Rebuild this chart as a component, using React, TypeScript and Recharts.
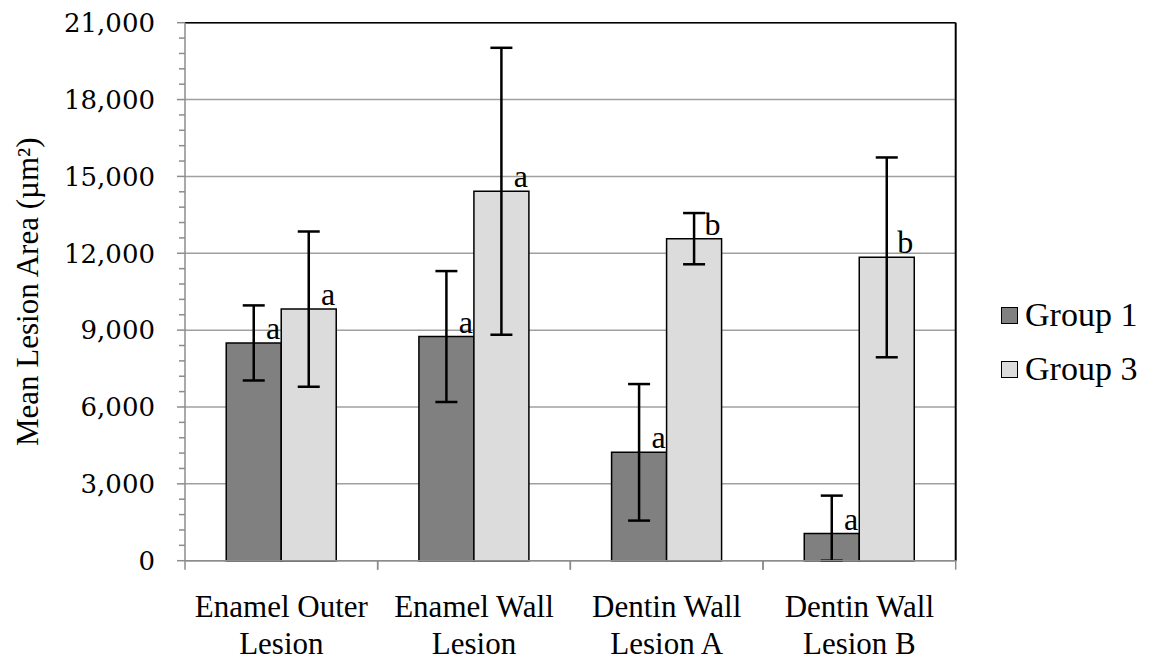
import React from 'react';
import {
  BarChart,
  Bar,
  XAxis,
  YAxis,
  CartesianGrid,
  ErrorBar,
  LabelList,
  Legend,
  ReferenceLine,
} from 'recharts';

// lesion sites along the x axis
const categories = ['Enamel Outer\nLesion', 'Enamel Wall\nLesion', 'Dentin Wall\nLesion A', 'Dentin Wall\nLesion B'];

// mean lesion area (µm²)
const group1 = [8500, 8750, 4230, 1060];
const group3 = [9820, 14420, 12570, 11840];

// error bars (below / above the mean)
const group1ErrLow = [1465, 2555, 2665, 1060];
const group1ErrHigh = [1465, 2555, 2665, 1480];
const group3ErrLow = [3030, 5600, 1000, 3900];
const group3ErrHigh = [3030, 5600, 1000, 3900];

// significance letters
const group1Letters = ['a', 'a', 'a', 'a'];
const group3Letters = ['a', 'a', 'b', 'b'];

const yTicks = [0, 3000, 6000, 9000, 12000, 15000, 18000, 21000];

const minorTicks: number[] = [];
for (let v = 0; v <= 21000; v += 600) minorTicks.push(v);

const data = categories.map((name, i) => ({
  name,
  g1: group1[i],
  g3: group3[i],
  g1Err: [group1ErrLow[i], group1ErrHigh[i]],
  g3Err: [group3ErrLow[i], group3ErrHigh[i]],
  g1Letter: group1Letters[i],
  g3Letter: group3Letters[i],
}));

const SERIF = '"Liberation Serif", "Times New Roman", serif';
const AXIS_GRAY = '#8c8c8c';

const YTick = (props: any) => {
  const { x, y, payload } = props;
  const major = payload.value % 3000 === 0;
  return (
    <g>
      <line x1={x - (major ? 8 : 6)} x2={x} y1={y} y2={y} stroke={AXIS_GRAY} strokeWidth={1.5} />
      {major && (
        <text x={x - 30} y={y} dy="0.36em" textAnchor="end" fontFamily='"DejaVu Serif", serif' fontSize={26} fill="#000">
          {payload.value.toLocaleString('en-US')}
        </text>
      )}
    </g>
  );
};

// category label plus the tick marks on the category boundaries
const XTick = (props: any) => {
  const { x, y, payload } = props;
  const half = payload.offset || 0;
  const lines = String(payload.value).split('\n');
  return (
    <g>
      <line x1={x - half} x2={x - half} y1={y} y2={y + 9} stroke={AXIS_GRAY} strokeWidth={1.5} />
      <line x1={x + half} x2={x + half} y1={y} y2={y + 9} stroke={AXIS_GRAY} strokeWidth={1.5} />
      <text textAnchor="middle" fontFamily={SERIF} fontSize={31} fill="#000">
        {lines.map((l, i) => (
          <tspan key={i} x={x} y={y + 56 + i * 37}>{l}</tspan>
        ))}
      </text>
    </g>
  );
};

const renderLetter = (props: any) => {
  const { x, y, width, value } = props;
  return (
    <text x={x + width - 1} y={y - 4} textAnchor="end" fontFamily={SERIF} fontSize={32} fill="#000">
      {value}
    </text>
  );
};

const YTitle = () => (
  <text
    x={38}
    y={291.7}
    transform="rotate(-90, 38, 291.7)"
    textAnchor="middle"
    fontFamily={SERIF}
    fontSize={31}
    fill="#000"
  >
    Mean Lesion Area (µm²)
  </text>
);

const legendItems = [
  { label: 'Group 1', color: '#808080' },
  { label: 'Group 3', color: '#dcdcdc' },
];

const LegendBox = () => (
  <div style={{ fontFamily: SERIF, fontSize: 34, color: '#000' }}>
    {legendItems.map((it) => (
      <div key={it.label} style={{ display: 'flex', alignItems: 'center', height: 54, lineHeight: '54px' }}>
        <span
          style={{
            display: 'inline-block',
            width: 15,
            height: 15,
            background: it.color,
            border: '1.5px solid #000',
            marginRight: 7,
          }}
        />
        {it.label}
      </div>
    ))}
  </div>
);

const App: React.FC = () => {
  return (
    <div style={{ position: 'absolute', left: 0, top: 0, width: 1164, height: 664, background: '#fff' }}>
      <BarChart
        width={1164}
        height={664}
        data={data}
        margin={{ top: 22.7, right: 208.3, bottom: 0, left: 0 }}
        barCategoryGap="21.4%"
        barGap={0}
      >
        <CartesianGrid horizontal vertical={false} horizontalValues={yTicks} stroke="#a0a0a0" strokeWidth={1.5} />
        <XAxis
          dataKey="name"
          height={103.3}
          interval={0}
          tickLine={false}
          tickSize={0}
          tickMargin={0}
          tick={<XTick />}
          axisLine={{ stroke: AXIS_GRAY, strokeWidth: 1.5 }}
        />
        <YAxis
          width={185}
          domain={[0, 21000]}
          ticks={minorTicks}
          interval={0}
          tickLine={false}
          tickSize={0}
          tickMargin={0}
          tick={<YTick />}
          axisLine={{ stroke: AXIS_GRAY, strokeWidth: 1.5 }}
          label={<YTitle />}
        />
        <ReferenceLine y={21000} stroke="#000" strokeWidth={1.5} />
        <ReferenceLine x={categories[categories.length - 1]} position="end" stroke="#000" strokeWidth={2} />
        <Legend
          layout="vertical"
          align="center"
          verticalAlign="middle"
          wrapperStyle={{ left: 1001, top: 288, width: 160 }}
          content={<LegendBox />}
        />
        <Bar dataKey="g1" name="Group 1" fill="#808080" stroke="#000" strokeWidth={1.5} isAnimationActive={false}>
          <ErrorBar dataKey="g1Err" direction="y" width={11} stroke="#000" strokeWidth={2.5} isAnimationActive={false} />
          <LabelList dataKey="g1Letter" content={renderLetter} />
        </Bar>
        <Bar dataKey="g3" name="Group 3" fill="#dcdcdc" stroke="#000" strokeWidth={1.5} isAnimationActive={false}>
          <ErrorBar dataKey="g3Err" direction="y" width={11} stroke="#000" strokeWidth={2.5} isAnimationActive={false} />
          <LabelList dataKey="g3Letter" content={renderLetter} />
        </Bar>
      </BarChart>
    </div>
  );
};

export default App;
